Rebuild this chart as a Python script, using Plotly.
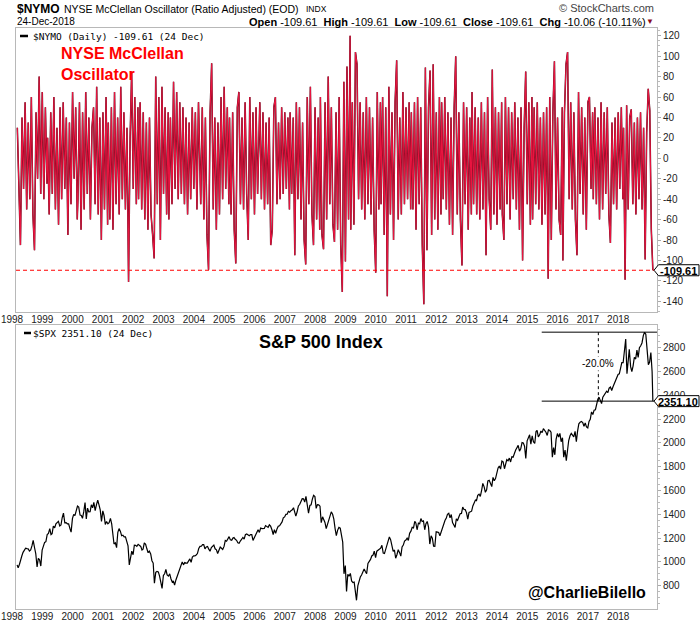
import pandas as pd
import plotly.graph_objects as go

# ---------------- data ----------------
YEARS = list(range(1998, 2019))
YEAR_LABELS = [str(y) for y in YEARS]

# NYSE McClellan Oscillator, ~20 readings per year
nymo_1998 = [30, -45, -85, 40, -30, 55, -50, 35, -40, 60, -55, -90, 45, -20, 80, -35, 65, -40, 50, -25]
nymo_1999 = [20, -55, 45, -35, 60, -50, 30, -65, 50, -40, 55, -30, 40, -75, 35, -45, 65, -20, 50, -60]
nymo_2000 = [-40, 55, -70, 45, -50, 65, -35, 40, -60, 30, 50, -45, 70, -55, 40, -80, 45, -50, 60, -65]
nymo_2001 = [35, -60, 50, -70, 65, -45, 40, -55, 70, -40, 45, -50, 30, -121, 20, 85, -30, 60, -45, 50]
nymo_2002 = [-40, 55, -50, 45, -60, 35, -70, 40, -55, -75, -98, 80, -45, 60, -80, 70, -35, 50, -55, 45]
nymo_2003 = [-60, 40, -45, 75, -30, 65, -40, 55, -35, 50, -45, 40, -55, 35, -40, 50, -30, 45, -50, 55]
nymo_2004 = [30, -45, 50, -60, 40, -75, -109, 45, 93, -50, 40, -70, 35, -55, 60, -40, 70, -30, 50, -45]
nymo_2005 = [40, -55, 45, -70, -103, 50, 65, -45, 40, -50, 55, -35, -80, 60, -40, 45, -55, 50, -35, 40]
nymo_2006 = [55, -40, 45, -50, 35, -45, 40, -85, -70, 50, 60, -45, 35, -40, 50, -35, 45, -30, 40, -50]
nymo_2007 = [45, -35, 40, -95, 55, -40, 50, -60, 35, -80, -104, 60, -45, 70, -55, -85, 50, -60, 40, -70]
nymo_2008 = [60, -75, -89, 55, -60, 80, -45, 50, -65, -82, 45, -70, 60, -85, -131, 75, -101, 90, -60, 120]
nymo_2009 = [-70, 55, -65, 104, 92, -40, 55, -50, 45, -60, 60, -45, 50, -55, 40, -70, -112, 65, -50, 55]
nymo_2010 = [-45, 60, -75, 50, -135, 70, -55, 45, -80, 55, 96, -60, 40, -55, 65, -45, 50, -40, 55, -50]
nymo_2011 = [45, -50, 55, -70, 60, -45, 50, -85, -143, 89, -90, 50, 86, -75, 92, -60, 45, -70, 60, -55]
nymo_2012 = [55, -40, 60, -50, 45, -65, 40, -75, 50, 100, -55, 45, -60, -105, 55, -45, 50, -70, 40, -55]
nymo_2013 = [65, -45, 50, -55, 40, -60, 55, -50, 45, -95, 60, -40, -70, 87, -55, 50, -65, 45, -50, 55]
nymo_2014 = [-55, -80, 60, -45, 50, -60, 45, -40, 55, -50, 40, -70, 50, -100, 30, 85, -45, 55, -65, 60]
nymo_2015 = [-60, 50, -45, 55, -50, 40, -65, 45, -55, 50, -118, 60, -80, 45, 95, -50, 40, -60, -75, 50]
nymo_2016 = [-100, 45, 92, 104, -40, 55, -50, 45, -60, -95, 65, -35, 50, -55, 40, -70, 55, 60, -30, 45]
nymo_2017 = [-40, 50, -45, 40, -60, 55, -50, 45, -35, 50, -55, -83, 35, -45, 40, -50, 45, -30, 50, -40]
nymo_2018 = [30, -119, 52, -50, 40, 48, -45, 35, -55, 40, -40, 45, -50, 30, -99, 25, 68, 47, -70, -109.61]

# S&P 500, mid-month and month-end values
spx_start = 975
spx_1998 = [950, 980, 1025, 1049, 1080, 1102, 1115, 1112, 1110, 1091, 1100, 1134, 1180, 1121, 1070, 957, 1030, 1017, 965, 1099, 1130, 1164, 1170, 1229]
spx_1999 = [1240, 1280, 1230, 1238, 1300, 1286, 1320, 1335, 1340, 1302, 1310, 1373, 1410, 1329, 1330, 1320, 1320, 1283, 1250, 1363, 1400, 1389, 1420, 1469]
spx_2000 = [1460, 1394, 1390, 1366, 1420, 1499, 1360, 1452, 1420, 1421, 1480, 1455, 1500, 1431, 1480, 1518, 1480, 1437, 1340, 1429, 1390, 1315, 1340, 1320]
spx_2001 = [1330, 1366, 1320, 1240, 1150, 1160, 1120, 1249, 1280, 1256, 1220, 1224, 1210, 1211, 1180, 1134, 975, 1041, 1090, 1060, 1140, 1139, 1130, 1148]
spx_2002 = [1140, 1130, 1100, 1107, 1160, 1147, 1110, 1077, 1090, 1067, 1010, 990, 820, 912, 920, 916, 880, 815, 777, 886, 900, 936, 890, 880]
spx_2003 = [900, 856, 830, 841, 805, 848, 880, 917, 945, 964, 1000, 975, 995, 990, 990, 1008, 1025, 996, 1040, 1051, 1050, 1058, 1070, 1112]
spx_2004 = [1130, 1131, 1145, 1145, 1110, 1126, 1130, 1107, 1090, 1121, 1135, 1141, 1110, 1102, 1070, 1104, 1125, 1115, 1105, 1130, 1180, 1174, 1200, 1212]
spx_2005 = [1185, 1181, 1200, 1204, 1190, 1181, 1160, 1157, 1175, 1192, 1205, 1191, 1228, 1234, 1230, 1220, 1230, 1229, 1180, 1207, 1235, 1249, 1270, 1248]
spx_2006 = [1285, 1280, 1280, 1281, 1305, 1295, 1290, 1311, 1300, 1270, 1230, 1270, 1240, 1277, 1300, 1304, 1320, 1336, 1370, 1378, 1400, 1401, 1425, 1418]
spx_2007 = [1430, 1438, 1455, 1407, 1385, 1421, 1470, 1482, 1510, 1531, 1530, 1503, 1550, 1455, 1410, 1474, 1480, 1527, 1560, 1549, 1450, 1481, 1480, 1468]
spx_2008 = [1330, 1379, 1350, 1331, 1280, 1323, 1340, 1386, 1420, 1400, 1360, 1280, 1220, 1267, 1290, 1283, 1200, 1166, 900, 969, 752, 896, 880, 903]
spx_2009 = [840, 826, 830, 735, 677, 798, 850, 873, 890, 919, 940, 919, 900, 987, 1000, 1021, 1050, 1057, 1090, 1036, 1090, 1096, 1105, 1115]
spx_2010 = [1140, 1074, 1070, 1104, 1150, 1169, 1210, 1187, 1130, 1089, 1100, 1031, 1060, 1102, 1080, 1049, 1125, 1141, 1175, 1183, 1200, 1181, 1240, 1258]
spx_2011 = [1290, 1286, 1340, 1327, 1270, 1326, 1320, 1364, 1340, 1345, 1270, 1321, 1340, 1292, 1150, 1219, 1200, 1131, 1130, 1253, 1250, 1247, 1220, 1258]
spx_2012 = [1290, 1312, 1350, 1366, 1400, 1408, 1370, 1398, 1330, 1310, 1290, 1362, 1350, 1379, 1405, 1407, 1460, 1441, 1440, 1412, 1360, 1416, 1420, 1426]
spx_2013 = [1470, 1498, 1520, 1515, 1560, 1569, 1550, 1598, 1660, 1631, 1585, 1606, 1680, 1686, 1660, 1633, 1710, 1682, 1700, 1757, 1790, 1806, 1780, 1848]
spx_2014 = [1840, 1783, 1830, 1859, 1850, 1872, 1840, 1884, 1880, 1924, 1940, 1960, 1980, 1931, 1950, 2003, 2000, 1972, 1870, 2018, 2040, 2068, 1990, 2059]
spx_2015 = [2010, 1995, 2095, 2105, 2050, 2068, 2100, 2086, 2120, 2107, 2090, 2063, 2110, 2104, 2090, 1880, 1960, 1900, 2030, 2079, 2050, 2080, 2010, 2044]
spx_2016 = [1880, 1940, 1850, 1932, 2020, 2060, 2080, 2065, 2050, 2097, 2010, 2099, 2160, 2174, 2180, 2171, 2140, 2168, 2135, 2126, 2180, 2199, 2260, 2239]
spx_2017 = [2275, 2279, 2340, 2364, 2385, 2363, 2330, 2384, 2400, 2412, 2435, 2423, 2460, 2470, 2440, 2472, 2500, 2519, 2555, 2575, 2580, 2648, 2675, 2674]
spx_2018 = [2790, 2873, 2581, 2714, 2786, 2641, 2600, 2648, 2720, 2705, 2780, 2718, 2800, 2816, 2840, 2902, 2930, 2914, 2750, 2658, 2680, 2760, 2600, 2351.10]

SPX_HIGH = 2930.75
SPX_LAST = 2351.10
NYMO_LAST = -109.61

nymo_tick_vals = list(range(-140, 121, 20))
nymo_tick_text = [str(v) for v in nymo_tick_vals]
spx_tick_vals = list(range(800, 2801, 200))
spx_tick_text = [str(v) for v in spx_tick_vals]

nymo_years = dict(zip(YEARS, [nymo_1998, nymo_1999, nymo_2000, nymo_2001, nymo_2002, nymo_2003, nymo_2004,
                              nymo_2005, nymo_2006, nymo_2007, nymo_2008, nymo_2009, nymo_2010, nymo_2011,
                              nymo_2012, nymo_2013, nymo_2014, nymo_2015, nymo_2016, nymo_2017, nymo_2018]))
spx_years = dict(zip(YEARS, [spx_1998, spx_1999, spx_2000, spx_2001, spx_2002, spx_2003, spx_2004,
                             spx_2005, spx_2006, spx_2007, spx_2008, spx_2009, spx_2010, spx_2011,
                             spx_2012, spx_2013, spx_2014, spx_2015, spx_2016, spx_2017, spx_2018]))

LAST_DAY = pd.Timestamp("2018-12-24")

# ---------------- build series ----------------
nx, ny = [], []
for y in YEARS:
    vals = nymo_years[y]
    end = LAST_DAY if y == 2018 else pd.Timestamp(f"{y}-12-28")
    d = pd.date_range(pd.Timestamp(f"{y}-01-05"), end, periods=len(vals))
    nx += list(d)
    ny += vals

sx, sy = [pd.Timestamp("1998-01-02")], [spx_start]
for y in YEARS:
    vals = spx_years[y]
    for m in range(12):
        mid = pd.Timestamp(year=y, month=m + 1, day=15)
        end = mid + pd.offsets.MonthEnd(0)
        if y == 2018 and m == 11:
            end = LAST_DAY
        sx += [mid, end]
    sy += vals

# ---------------- layout helpers ----------------
W, H = 700, 624
L, R, T, B = 16, 43, 28, 15
PW, PH = W - L - R, H - T - B


def X(px):
    return (px - L) / PW


def Y(py):
    return (H - B - py) / PH


XR = ["1997-12-20", "2019-02-12"]
FONT = "Liberation Sans, Arial, sans-serif"
MONO = "DejaVu Sans Mono, Liberation Mono, monospace"
NARROW = "Liberation Sans Narrow, Arial Narrow, Liberation Sans, Arial"

fig = go.Figure()
fig.add_trace(go.Scatter(x=nx, y=ny, mode="lines", line=dict(color="#3a0612", width=1.5),
                         xaxis="x", yaxis="y", hoverinfo="skip", showlegend=False))
fig.add_trace(go.Scatter(x=nx, y=ny, mode="lines", line=dict(color="#e8143f", width=1.1),
                         xaxis="x", yaxis="y", showlegend=False))
fig.add_trace(go.Scatter(x=sx, y=sy, mode="lines", line=dict(color="#000000", width=1.2),
                         xaxis="x2", yaxis="y2", showlegend=False))

top_dom = [Y(312), 1]
bot_dom = [0, Y(325)]

axis_common = dict(showline=True, linecolor="#b8b8b8", linewidth=1, mirror=True, showgrid=False,
                   zeroline=False, automargin=False)
xcommon = dict(axis_common, type="date", range=XR, tickmode="array",
               tickvals=[f"{y}-01-01" for y in YEARS], ticktext=YEAR_LABELS,
               ticks="", tickfont=dict(family=NARROW, size=10, color="#222"), ticklabelshift=-5,
               ticklabelstandoff=-2)
ycommon = dict(axis_common, side="right", ticks="outside", ticklen=3, tickcolor="#aaa",
               tickfont=dict(family=FONT, size=10, color="#222"), tickmode="array")

fig.update_layout(
    width=W, height=H, margin=dict(l=L, r=R, t=T, b=B, pad=0, autoexpand=False),
    paper_bgcolor="white", plot_bgcolor="white", showlegend=False,
    xaxis=dict(xcommon, anchor="y"),
    xaxis2=dict(xcommon, anchor="y2"),
    yaxis=dict(ycommon, domain=top_dom, range=[-150.5, 127.6], tickvals=nymo_tick_vals,
               ticktext=nymo_tick_text, anchor="x",
               minor=dict(ticks="outside", ticklen=2, tickcolor="#bbb", dtick=5, showgrid=False)),
    yaxis2=dict(ycommon, domain=bot_dom, range=[604, 2991], tickvals=spx_tick_vals,
                ticktext=spx_tick_text, anchor="x2",
                minor=dict(ticks="outside", ticklen=2, tickcolor="#bbb", dtick=50, showgrid=False)),
)

shapes = []
# dashed red level line
shapes.append(dict(type="line", xref="paper", yref="y", x0=0, x1=1, y0=NYMO_LAST, y1=NYMO_LAST,
                   line=dict(color="#ff0000", width=1.2, dash="4px,3px")))
# S&P drawdown lines
shapes.append(dict(type="line", xref="x2", yref="y2", x0="2015-04-25", x1=XR[1], y0=SPX_HIGH, y1=SPX_HIGH,
                   line=dict(color="#000", width=1)))
shapes.append(dict(type="line", xref="x2", yref="y2", x0="2015-04-25", x1=XR[1], y0=SPX_LAST, y1=SPX_LAST,
                   line=dict(color="#000", width=1)))
shapes.append(dict(type="line", xref="x2", yref="y2", x0="2017-03-07", x1="2017-03-07", y0=SPX_HIGH,
                   y1=SPX_LAST, line=dict(color="#000", width=1, dash="3px,3px")))


def tag(yref, yv, half):
    x0, xn, x1 = X(654), X(658.5), X(699)
    return dict(type="path", xref="paper", yref=yref, layer="above",
                path=f"M {x0},{yv} L {xn},{yv + half} L {x1},{yv + half} L {x1},{yv - half} L {xn},{yv - half} Z",
                fillcolor="white", line=dict(color="#000", width=1))


shapes.append(tag("y", NYMO_LAST, 5.4))
shapes.append(tag("y2", SPX_LAST, 46))
# legend dashes
shapes.append(dict(type="line", xref="paper", yref="paper", x0=X(20), x1=X(28), y0=Y(36), y1=Y(36),
                   line=dict(color="#000", width=2.5)))
shapes.append(dict(type="line", xref="paper", yref="paper", x0=X(24), x1=X(31), y0=Y(333), y1=Y(333),
                   line=dict(color="#000", width=2.5)))
fig.update_layout(shapes=shapes)


def ann(text, px, py, xanchor="left", size=11, color="#000", family=FONT, **kw):
    d = dict(text=text, xref="paper", yref="paper", x=X(px), y=Y(py), xanchor=xanchor, yanchor="middle",
             showarrow=False, font=dict(family=family, size=size, color=color), align="left")
    d.update(kw)
    return d


anns = [
    ann("<b>$NYMO</b>", 15, 9, size=12),
    ann("NYSE McClellan Oscillator (Ratio Adjusted) (EOD)", 62, 9, size=10.5),
    ann("INDX", 304, 9, size=8.5),
    ann("24-Dec-2018", 15, 22, size=10),
    ann("<b>Open</b> -109.61  <b>High</b> -109.61  <b>Low</b> -109.61  <b>Close</b> -109.61  "
        "<b>Chg</b> -10.06 (-10.11%)", 648, 22, xanchor="right", size=11),
    ann("▼", 656, 22, xanchor="right", size=8, color="#8b0a1e"),
    ann("© StockCharts.com", 656, 8, xanchor="right", size=11, color="#444"),
    ann("$NYMO (Daily) -109.61 (24 Dec)", 31, 36, size=9.5, family=MONO),
    ann("$SPX 2351.10 (24 Dec)", 31, 333, size=9.5, family=MONO),
    ann("<b>NYSE McClellan<br>Oscillator</b>", 59, 64, size=16, color="#ff0000"),
    ann("<b>S&P 500 Index</b>", 321, 342, xanchor="center", size=18),
    ann("<b>@CharlieBilello</b>", 648, 592, xanchor="right", size=16),
    ann("-20.0%", 598, 363, xanchor="center", size=10, bgcolor="white"),
    ann("<b>-109.61</b>", 678, 271, xanchor="center", size=11),
    ann("<b>2351.10</b>", 678, 402, xanchor="center", size=11),
]
fig.update_layout(annotations=anns)

fig.write_html("out.html")
